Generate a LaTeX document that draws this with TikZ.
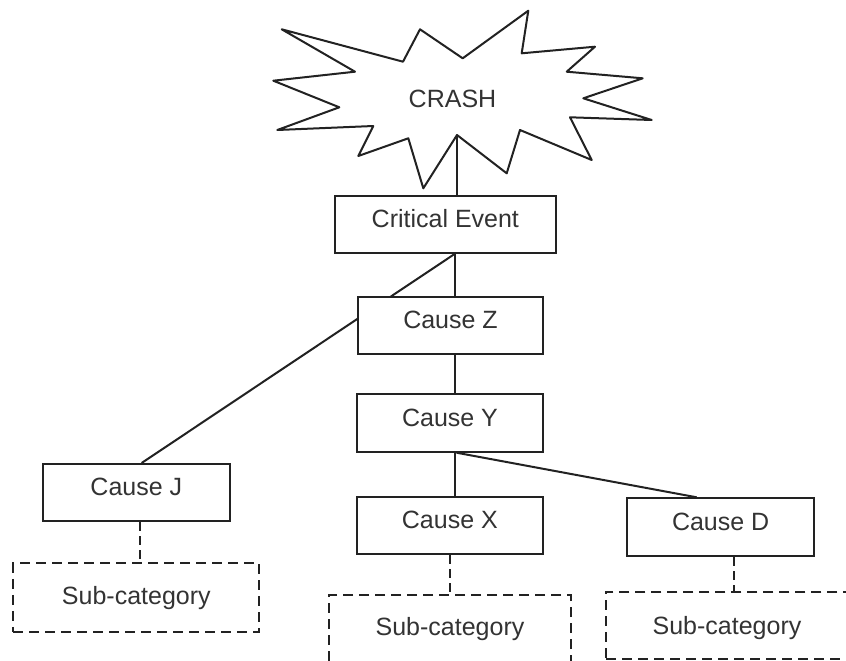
\documentclass[tikz,border=0pt]{standalone}
\usepackage{fontspec}
\setmainfont{Liberation Sans}
\usetikzlibrary{calc,backgrounds}
\definecolor{ink}{HTML}{222222}
\definecolor{txt}{HTML}{333333}
\begin{document}
\begin{tikzpicture}[x=1pt,y=-1pt,
  line width=2pt,
  box/.style={draw=ink, fill=white, inner sep=0pt, text height=17.9pt, text depth=11pt,
    font=\fontsize{25}{30}\selectfont, text=txt},
  subbox/.style={box, dash pattern=on 10pt off 6pt, text depth=4pt},
  link/.style={draw=ink, line width=2pt},
  dlink/.style={link, dash pattern=on 9pt off 5pt}]
\useasboundingbox (0,0) rectangle (846,661);
\clip (0,0) rectangle (846,661);

% star
\draw[ink, fill=white, line join=round]
  (281.7,29.3) -- (403,61.7) -- (420,29.3) -- (462.7,58.3) -- (528.3,10.7)
  -- (521.7,53.3) -- (595,46.7) -- (566.7,71.7) -- (642.7,78.3) -- (583.3,98.3)
  -- (651.7,120) -- (570,117.3) -- (591.7,160) -- (520,130) -- (506.7,173.3)
  -- (457,135) -- (423.3,188.3) -- (408.3,138.3) -- (358.3,156) -- (373.3,126)
  -- (277.3,130) -- (339.3,107.3) -- (273.3,80.7) -- (355,71.7) -- cycle;
\node[font=\fontsize{25}{30}\selectfont, text=txt, inner sep=0pt] (crash) at (452.5,99) {CRASH};
\coordinate (cb) at (457,135);
\coordinate (spine) at (455,0);

% boxes
\node[box, minimum width=220.7pt, minimum height=56.7pt] (ce) at (445.35,224.35) {Critical Event};
\node[box, minimum width=184.4pt, minimum height=57.6pt] (cz) at (450.5,325.5) {Cause Z};
\node[box, minimum width=185.4pt, minimum height=57.7pt] (cy) at (450,422.85) {Cause Y};
\node[box, minimum width=185.7pt, minimum height=57.3pt] (cx) at (449.85,525.35) {Cause X};
\node[box, minimum width=186.7pt, minimum height=57.7pt] (cd) at (720.65,527.15) {Cause D};
\node[box, minimum width=187.3pt, minimum height=57pt] (cj) at (136.35,492.5) {Cause J};

\node[subbox, minimum width=246pt, minimum height=68.4pt] (sj) at (136.3,597.5) {Sub-category};
\node[subbox, minimum width=242pt, minimum height=68pt] (sx) at (450,629) {Sub-category};
\node[subbox, minimum width=242pt, minimum height=67.3pt, text depth=0pt] (sd) at (727,625.35) {Sub-category};

% attachment points
\coordinate (jtop) at ($(cj.north)+(5.3,0)$);
\coordinate (ybot) at ($(cy.south)+(6.5,0)$);
\coordinate (dtop) at ($(cd.north)+(-24,0)$);
\coordinate (jbot) at ($(cj.south)+(4,0)$);
\coordinate (xbot) at ($(cx.south)+(0,0)$);
\coordinate (dbot) at ($(cd.south)+(13,0)$);

% connectors
\begin{pgfonlayer}{background}
\draw[link] (cb) -- (cb |- ce.north);
\draw[link] (ce.south -| spine) -- (cz.north -| spine);
\draw[link] (ce.south -| spine) -- (jtop);
\draw[link] (cz.south -| spine) -- (cy.north -| spine);
\draw[link] (cy.south -| spine) -- (cx.north -| spine);
\draw[link] (ybot) -- (dtop);
\draw[dlink] (jbot) -- (jbot |- sj.north);
\draw[dlink] (xbot) -- (xbot |- sx.north);
\draw[dlink] (dbot) -- (dbot |- sd.north);
\end{pgfonlayer}
\end{tikzpicture}
\end{document}
